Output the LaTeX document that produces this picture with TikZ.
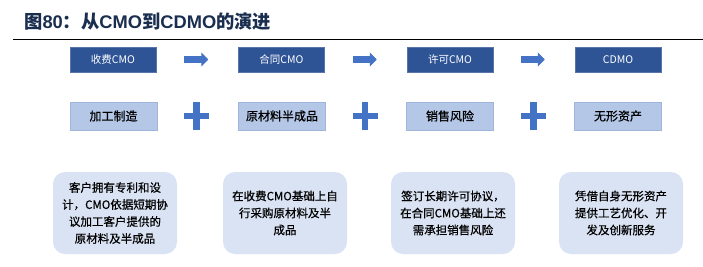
\documentclass[tikz,border=0pt]{standalone}
\usepackage{fontspec}
\setmainfont{Noto Sans CJK SC}
\newfontfamily\cjk{Noto Sans CJK SC}
\newfontfamily\cjkm[FakeBold=0.6]{Noto Sans CJK SC}
\newfontfamily\latb{Liberation Sans}
\usetikzlibrary{arrows.meta,calc}
\definecolor{titlecol}{HTML}{1A2E4F}
\definecolor{darkbox}{HTML}{2F5496}
\definecolor{arrowcol}{HTML}{4472C4}
\definecolor{lightbox}{HTML}{B4C7E7}
\definecolor{lightedge}{HTML}{9FB5DC}
\definecolor{softbox}{HTML}{DAE3F3}
\tikzset{
  topbox/.style={fill=darkbox, draw=darkbox!80!white, line width=0.5pt, minimum width=86pt, minimum height=25pt, inner sep=0pt, text=white, font=\cjk\fontsize{10.5}{12}\selectfont},
  midbox/.style={fill=lightbox, draw=lightedge, line width=0.6pt, minimum width=87pt, minimum height=28pt, inner sep=0pt, text=black, font=\cjkm\fontsize{12}{14}\selectfont},
  descbox/.style={fill=softbox, rounded corners=12pt, minimum width=124pt, minimum height=82pt, inner sep=0pt, text=black, align=center, font=\cjkm\fontsize{11.5}{17}\selectfont},
  blockarrow/.style={draw=arrowcol, line width=7.6pt, -{Triangle[length=7pt,width=14pt]}, shorten <=28pt, shorten >=30pt},
  plusbar/.style={fill=arrowcol}
}
\begin{document}
\begin{tikzpicture}[x=1pt,y=-1pt]
\useasboundingbox (0,0) rectangle (703,266);
% title
\node[anchor=west, inner sep=0pt, text=titlecol, font=\cjk\bfseries\fontsize{18.3}{20}\selectfont] (title) at (24,21.5) {图{\latb\bfseries 80}：从{\latb\bfseries CMO}到{\latb\bfseries CDMO}的演进};
\coordinate (ruleL) at (13,39.5);
\coordinate (ruleR) at (703,39.5);
\draw[black, line width=1pt] (ruleL) -- (ruleR);
% top row
\node[topbox] (t1) at (113,59.5) {收费CMO};
\node[topbox] (t2) at (281.5,59.5) {合同CMO};
\node[topbox] (t3) at (450,59.5) {许可CMO};
\node[topbox] (t4) at (618,59.5) {CDMO};
\draw[blockarrow] (t1.east) -- (t2.west);
\draw[blockarrow] (t2.east) -- (t3.west);
\draw[blockarrow] (t3.east) -- (t4.west);
% middle row
\node[midbox] (m1) at (113.5,116) {加工制造};
\node[midbox] (m2) at (282,116) {原材料半成品};
\node[midbox] (m3) at (450,116) {销售风险};
\node[midbox] (m4) at (618,116) {无形资产};
% plus signs
\foreach \cx in {196.5,365,533.5}{
  \fill[plusbar] (\cx-12.5,112.8) rectangle (\cx+12.5,119.3);
  \fill[plusbar] (\cx-3.4,102) rectangle (\cx+3.4,130);
}
% bottom row
\node[descbox] (d1) at (115,213) {客户拥有专利和设\\计，CMO依据短期协\\议加工客户提供的\\原材料及半成品};
\node[descbox] (d2) at (285,213) {在收费CMO基础上自\\行采购原材料及半\\成品};
\node[descbox] (d3) at (453,213) {签订长期许可协议，\\在合同CMO基础上还\\需承担销售风险};
\node[descbox] (d4) at (621,213) {凭借自身无形资产\\提供工艺优化、开\\发及创新服务};
\end{tikzpicture}
\end{document}
